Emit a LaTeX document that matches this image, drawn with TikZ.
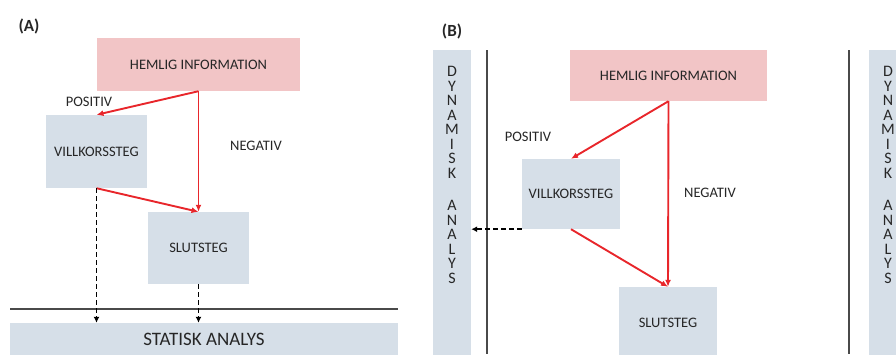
\documentclass[tikz,border=0pt]{standalone}
\usepackage{fontspec}
\setmainfont{Carlito}
\usetikzlibrary{arrows.meta}
\definecolor{pinkfill}{HTML}{F2C5C6}
\definecolor{bluefill}{HTML}{D6DFE8}
\definecolor{redline}{HTML}{E8262B}
\definecolor{darkline}{HTML}{4A4A4A}
\definecolor{txt}{HTML}{262626}
\begin{document}
\begin{tikzpicture}[x=1pt,y=-1pt,
  box/.style={draw=none,inner sep=0pt,font=\fontsize{14.5}{16}\selectfont,text=txt},
  pinkbox/.style={box,fill=pinkfill},
  bluebox/.style={box,fill=bluefill},
  redarrow/.style={draw=redline,line width=1.9pt,-{Latex[length=7pt,width=6pt]}},
  dasharrow/.style={draw=black,line width=1.9pt,dash pattern=on 5pt off 3pt,-{Latex[length=6pt,width=6pt]}},
  lbl/.style={font=\fontsize{14.5}{16}\selectfont,text=txt,inner sep=0pt},
  panel/.style={font=\bfseries\fontsize{17}{19}\selectfont,inner sep=0pt,text=txt},
  sepline/.style={draw=darkline,line width=2.2pt},
  dyn/.style={align=center,font=\fontsize{16}{14.5}\selectfont,inner sep=0pt,text=txt},
]
\useasboundingbox (0,0) rectangle (896,354);
\clip (0,0) rectangle (896,354);

% ---------- Panel A ----------
\node[panel] (labA) at (29,26) {(A)};
\node[pinkbox,minimum width=203pt,minimum height=53pt] (hA) at (198.5,64.5) {HEMLIG INFORMATION};
\node[bluebox,minimum width=101pt,minimum height=73pt] (vA) at (96.5,151.5) {VILLKORSSTEG};
\node[bluebox,minimum width=101pt,minimum height=72pt] (sA) at (198.5,248) {SLUTSTEG};
\node[bluebox,minimum width=388pt,minimum height=32pt,font=\fontsize{19}{21}\selectfont] (stA) at (204,339) {STATISK ANALYS};
\node[lbl] (posA) at (89,102) {POSITIV};
\node[lbl] (negA) at (256,146) {NEGATIV};
\coordinate (sepL) at (10,309);
\coordinate (sepR) at (398,309);
\draw[sepline] (sepL) -- (sepR);
\draw[redarrow] (hA.south) -- (vA.north);
\draw[redarrow] (hA.south) -- (sA.north);
\draw[redarrow] (vA.south) -- (sA.north);
\draw[dasharrow] (vA.south) -- (vA.south |- stA.north);
\draw[dasharrow] (sA.south) -- (sA.south |- stA.north);

% ---------- Panel B ----------
\node[panel] (labB) at (452,31) {(B)};
\node[bluebox,minimum width=38pt,minimum height=310pt] (dynL) at (452,205) {};
\node[dyn] (dynLt) at (452,175) {D\\Y\\N\\A\\M\\I\\S\\K\\[18pt]A\\N\\A\\L\\Y\\S};
\node[bluebox,minimum width=38pt,minimum height=310pt] (dynR) at (888,205) {};
\node[dyn] (dynRt) at (888,175) {D\\Y\\N\\A\\M\\I\\S\\K\\[18pt]A\\N\\A\\L\\Y\\S};
\coordinate (vl1t) at (487,50);
\coordinate (vl1b) at (487,354);
\coordinate (vl2t) at (849,50);
\coordinate (vl2b) at (849,354);
\draw[sepline] (vl1t) -- (vl1b);
\draw[sepline] (vl2t) -- (vl2b);
\node[pinkbox,minimum width=197pt,minimum height=51pt] (hB) at (668.5,75.5) {HEMLIG INFORMATION};
\node[bluebox,minimum width=98pt,minimum height=70pt] (vB) at (571,194) {VILLKORSSTEG};
\node[bluebox,minimum width=98pt,minimum height=72pt] (sB) at (668,323) {SLUTSTEG};
\node[lbl] (posB) at (528,137) {POSITIV};
\node[lbl] (negB) at (710,193) {NEGATIV};
\draw[redarrow] (hB.south) -- (vB.north);
\draw[redarrow] (hB.south) -- (sB.north);
\draw[redarrow] (vB.south) -- (sB.north);
\draw[dasharrow] (vB.south west) -- (dynL.east |- vB.south west);
\end{tikzpicture}
\end{document}
